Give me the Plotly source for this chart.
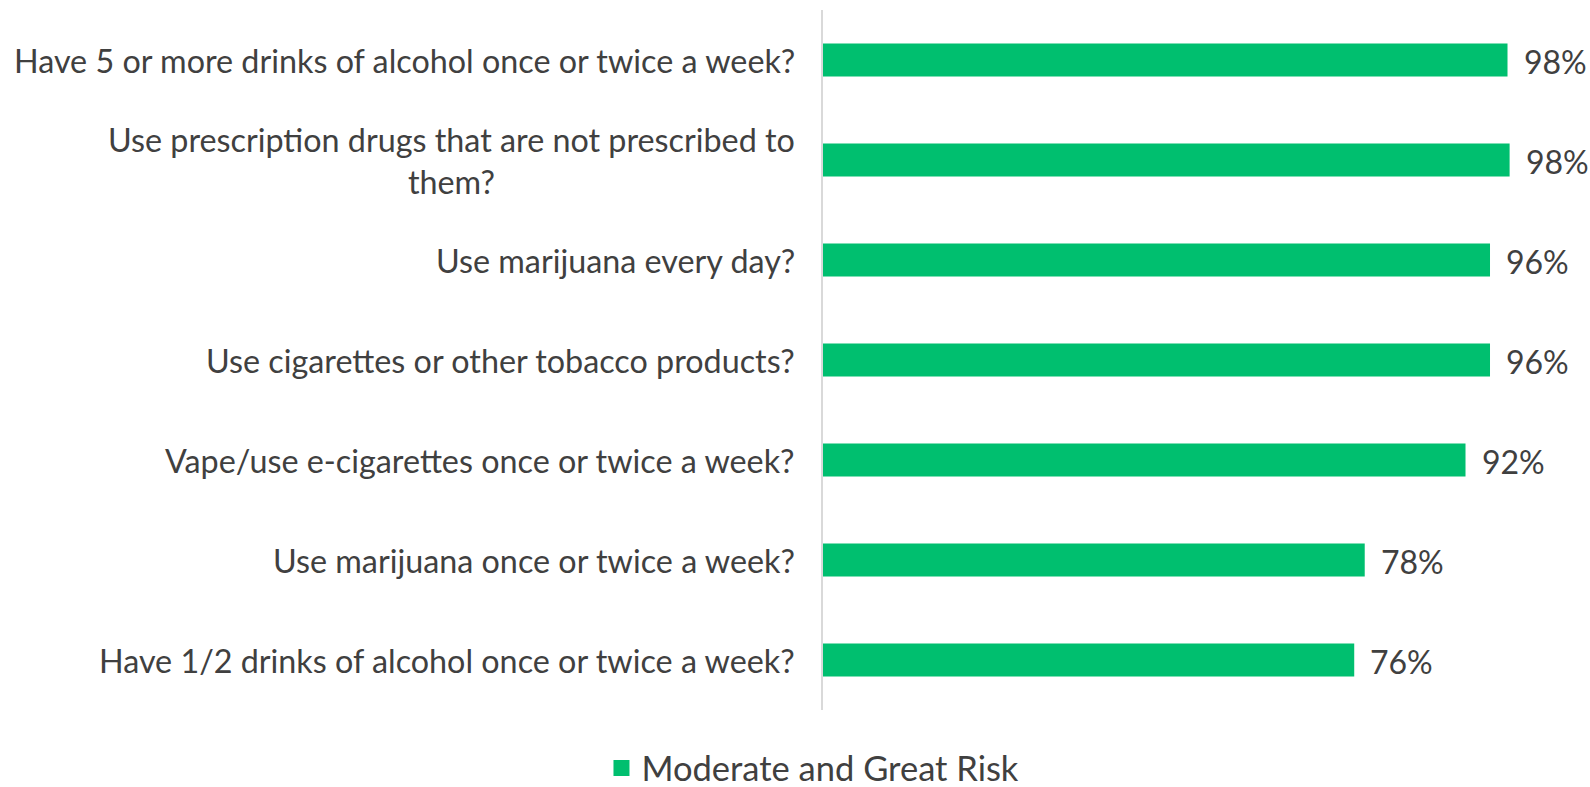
import plotly.graph_objects as go

categories = [
    "Have 5 or more drinks of alcohol once or twice a week?",
    "Use prescription drugs that are not prescribed to<br>them?",
    "Use marijuana every day?",
    "Use cigarettes or other tobacco products?",
    "Vape/use e-cigarettes once or twice a week?",
    "Use marijuana once or twice a week?",
    "Have 1/2 drinks of alcohol once or twice a week?",
]
values = [97.8, 98.1, 95.3, 95.3, 91.8, 77.4, 75.9]
value_labels = ["98%", "98%", "96%", "96%", "92%", "78%", "76%"]
series_name = "Moderate and Great Risk"

GREEN = "#00BF6F"
TEXT = "#404040"
FONT = "Lato"

ids = [f"c{i}" for i in range(len(categories))]

fig = go.Figure()
fig.add_trace(go.Bar(
    x=values, y=ids, orientation="h",
    marker=dict(color=GREEN, line=dict(width=0)),
    width=0.33, showlegend=False, hoverinfo="x",
))
# legend proxy
fig.add_trace(go.Scatter(
    x=[None], y=[None], mode="markers", name=series_name,
    marker=dict(symbol="square", size=22, color=GREEN),
    showlegend=True,
))

annotations = []
for cid, cat in zip(ids, categories):
    annotations.append(dict(
        x=0, xref="paper", y=cid, yref="y", text=cat, showarrow=False,
        xanchor="right", yanchor="middle", align="center", xshift=-26,
        font=dict(family=FONT, size=32.3, color=TEXT),
    ))
for cid, v, lab in zip(ids, values, value_labels):
    annotations.append(dict(
        x=v, xref="x", y=cid, yref="y", text=lab, showarrow=False,
        xanchor="left", yanchor="middle", xshift=14, yshift=-1,
        font=dict(family=FONT, size=32, color=TEXT),
    ))

fig.update_layout(
    width=1590, height=787,
    margin=dict(l=823, r=30, t=10, b=77, autoexpand=False),
    paper_bgcolor="white", plot_bgcolor="white",
    font=dict(family=FONT, color=TEXT),
    annotations=annotations,
    showlegend=True,
    legend=dict(
        orientation="h", x=-0.0136, xanchor="center", y=-0.083, yanchor="middle",
        font=dict(family=FONT, size=34.5, color=TEXT),
        itemsizing="trace", borderwidth=0,
    ),
    xaxis=dict(range=[0, 105.3], showgrid=False, zeroline=False,
               showticklabels=False, showline=False, fixedrange=True),
    yaxis=dict(categoryorder="array", categoryarray=ids[::-1],
               showticklabels=False, showgrid=False, zeroline=False,
               showline=True, linecolor="#D9D9D9", linewidth=2),
    bargap=0.67,
)

fig.write_html(
    "out.html",
    config={"displayModeBar": False},
    post_script="document.body.style.margin='0';document.body.style.overflow='hidden';",
)
